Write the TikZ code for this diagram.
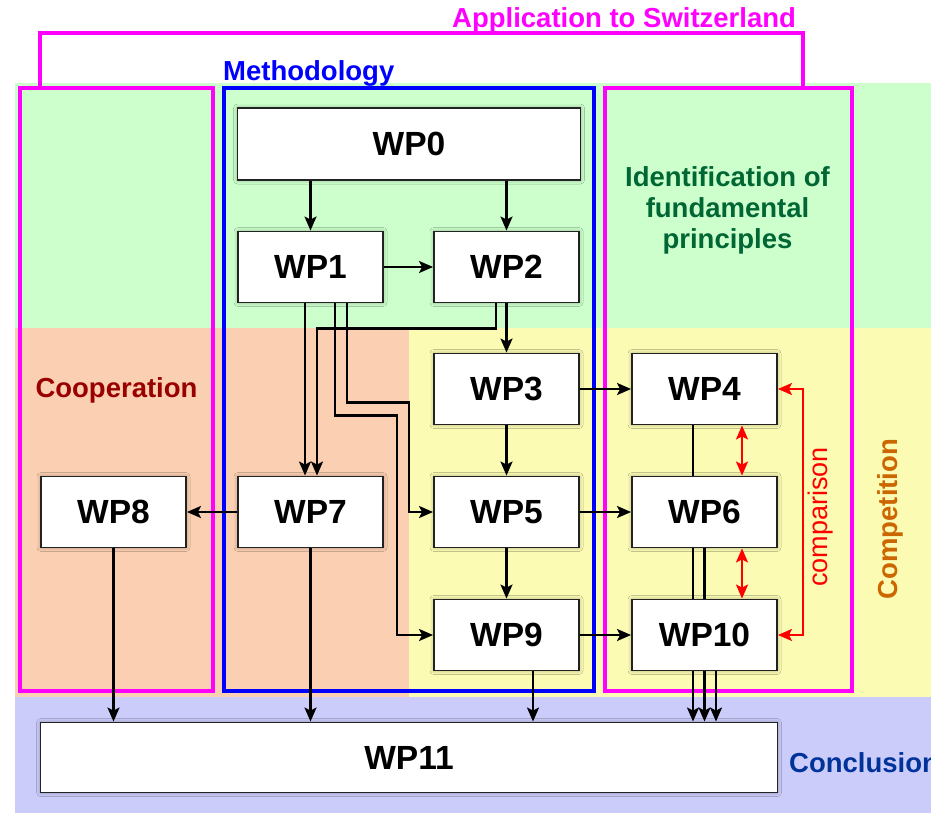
\documentclass[tikz,border=0pt]{standalone}
\usepackage{fontspec}
\setmainfont{Liberation Sans}
\usetikzlibrary{arrows.meta,calc,shadows.blur}
\pgfdeclarelayer{bg}
\pgfdeclarelayer{behind}
\pgfdeclarelayer{front}
\pgfsetlayers{bg,behind,main,front}
\definecolor{bggreen}{HTML}{CCFFCC}
\definecolor{bgpeach}{HTML}{FBCFB1}
\definecolor{bgyellow}{HTML}{FBFBB4}
\definecolor{bglav}{HTML}{CCCCFB}
\definecolor{mag}{HTML}{FF00FF}
\definecolor{meth}{HTML}{0000FF}
\definecolor{coop}{HTML}{990000}
\definecolor{ident}{HTML}{006633}
\definecolor{concl}{HTML}{003399}
\definecolor{compet}{HTML}{CC6600}
\definecolor{cmp}{HTML}{FF0000}
\definecolor{boxline}{HTML}{222222}
\tikzset{
  wpbox/.style={draw=boxline, line width=1.9pt, fill=white, minimum width=145pt,
    minimum height=71pt, inner sep=0pt, font=\fontsize{33.5}{36}\selectfont\bfseries,
    blur shadow={shadow xshift=0pt, shadow yshift=0pt, shadow blur radius=4pt, shadow opacity=35}},
  arr/.style={draw=black, line width=2.1pt, -{Stealth[length=14pt,width=12pt,inset=3pt]}},
  redarr/.style={draw=cmp, line width=2.1pt, {Stealth[length=14pt,width=12pt,inset=3pt]}-{Stealth[length=14pt,width=12pt,inset=3pt]}},
  frame/.style={line width=4.5pt},
  lbl/.style={font=\fontsize{27.5}{31}\selectfont\bfseries, inner sep=0pt}
}
\begin{document}
\begin{tikzpicture}[x=1pt,y=-1pt]
\useasboundingbox (0,0) rectangle (931,813);

% nodes
\node[wpbox, minimum width=343pt, minimum height=72pt] (wp0) at (409,144) {WP0};
\node[wpbox] (wp1) at (310.5,267) {WP1};
\node[wpbox] (wp2) at (506.5,267) {WP2};
\node[wpbox] (wp3) at (506.5,389) {WP3};
\node[wpbox] (wp4) at (704.5,389) {WP4};
\node[wpbox] (wp5) at (506.5,512) {WP5};
\node[wpbox] (wp6) at (704.5,512) {WP6};
\node[wpbox] (wp7) at (310.5,512) {WP7};
\node[wpbox] (wp8) at (113.5,512) {WP8};
\node[wpbox] (wp9) at (506.5,635) {WP9};
\node[wpbox] (wp10) at (704.5,635) {WP10};
\node[wpbox, minimum width=737pt, minimum height=70pt] (wp11) at (409,757.5) {WP11};

\begin{pgfonlayer}{bg}
  \fill[white] (0,0) rectangle (931,813);
  \fill[bggreen] (15,83) rectangle (931,328);
  \fill[bgpeach] (15,328) rectangle (409,697);
  \fill[bgyellow] (409,328) rectangle (931,697);
  \fill[bglav] (15,697) rectangle (931,813);
  \draw[mag, frame] (40,88) -- (40,33) -- (803,33) -- (803,88);
  \draw[mag, frame] (20,88) rectangle (213,691);
  \draw[meth, frame] (224,88) rectangle (594,691);
  \draw[mag, frame] (605,88) rectangle (852,691);
\end{pgfonlayer}

% labels
\node[lbl, text=mag, anchor=base west] (tapp) at (452,28) {Application to Switzerland};
\node[lbl, text=meth, anchor=base west] (tmeth) at (223,81) {Methodology};
\node[lbl, text=coop, anchor=base] (tcoop) at (116.5,397) {Cooperation};
\node[lbl, text=ident, align=center] (tident) at (727.5,210.5) {Identification of\\fundamental\\principles};
\node[lbl, text=concl, anchor=base west] (tconcl) at (789,772) {Conclusion};
\node[lbl, text=compet, anchor=base, rotate=90] (tcomp) at (897.5,519) {Competition};
\node[font=\fontsize{27}{30}\selectfont, text=cmp, inner sep=0pt, anchor=base, rotate=90] (tcmp) at (827,517) {comparison};

% coordinates for connectors
\coordinate (a1) at ($(wp1.south)+(-5.5,0)$);
\coordinate (a7) at ($(wp7.north)+(-5.5,0)$);
\coordinate (b2) at ($(wp2.south)+(-10.5,0)$);
\coordinate (b7) at ($(wp7.north)+(6.5,0)$);
\coordinate (c1) at ($(wp1.south)+(36.5,0)$);
\coordinate (c5) at ($(wp5.west)+(-24,0)$);
\coordinate (d1) at ($(wp1.south)+(24.5,0)$);
\coordinate (d9) at ($(wp9.west)+(-36,0)$);
\coordinate (e9) at ($(wp9.south)+(26.5,0)$);
\coordinate (f4) at ($(wp4.south)+(-11.5,0)$);
\coordinate (f6) at ($(wp6.south)+(0,0)$);
\coordinate (f10) at ($(wp10.south)+(11.5,0)$);
\coordinate (r4) at ($(wp4.south)+(37.5,0)$);
\coordinate (r6) at ($(wp6.south)+(37.5,0)$);

\begin{pgfonlayer}{behind}
  \draw[arr] (f4) -- (f4 |- wp11.north);
  \draw[arr] (f6) -- (f6 |- wp11.north);
\end{pgfonlayer}

\begin{pgfonlayer}{front}
  \draw[arr] (wp0.south -| wp1) -- (wp1.north);
  \draw[arr] (wp0.south -| wp2) -- (wp2.north);
  \draw[arr] (wp1.east) -- (wp2.west);
  \draw[arr] (wp2.south) -- (wp3.north);
  \draw[arr] (a1) -- (a7);
  \draw[arr] (b2) -- ++(0,25) -| (b7);
  \draw[arr] (c1) -- ++(0,99) -| (c5) -- (wp5.west);
  \draw[arr] (d1) -- ++(0,112) -| (d9) -- (wp9.west);
  \draw[arr] (wp3.south) -- (wp5.north);
  \draw[arr] (wp5.south) -- (wp9.north);
  \draw[arr] (wp3.east) -- (wp4.west);
  \draw[arr] (wp5.east) -- (wp6.west);
  \draw[arr] (wp9.east) -- (wp10.west);
  \draw[arr] (wp7.west) -- (wp8.east);
  \draw[arr] (wp8.south) -- (wp8.south |- wp11.north);
  \draw[arr] (wp7.south) -- (wp7.south |- wp11.north);
  \draw[arr] (e9) -- (e9 |- wp11.north);
  \draw[arr] (f10) -- (f10 |- wp11.north);
  \draw[redarr] (r4) -- (r4 |- wp6.north);
  \draw[redarr] (r6) -- (r6 |- wp10.north);
  \draw[redarr] (wp4.east) -- ++(25,0) |- (wp10.east);
\end{pgfonlayer}
\end{tikzpicture}
\end{document}
